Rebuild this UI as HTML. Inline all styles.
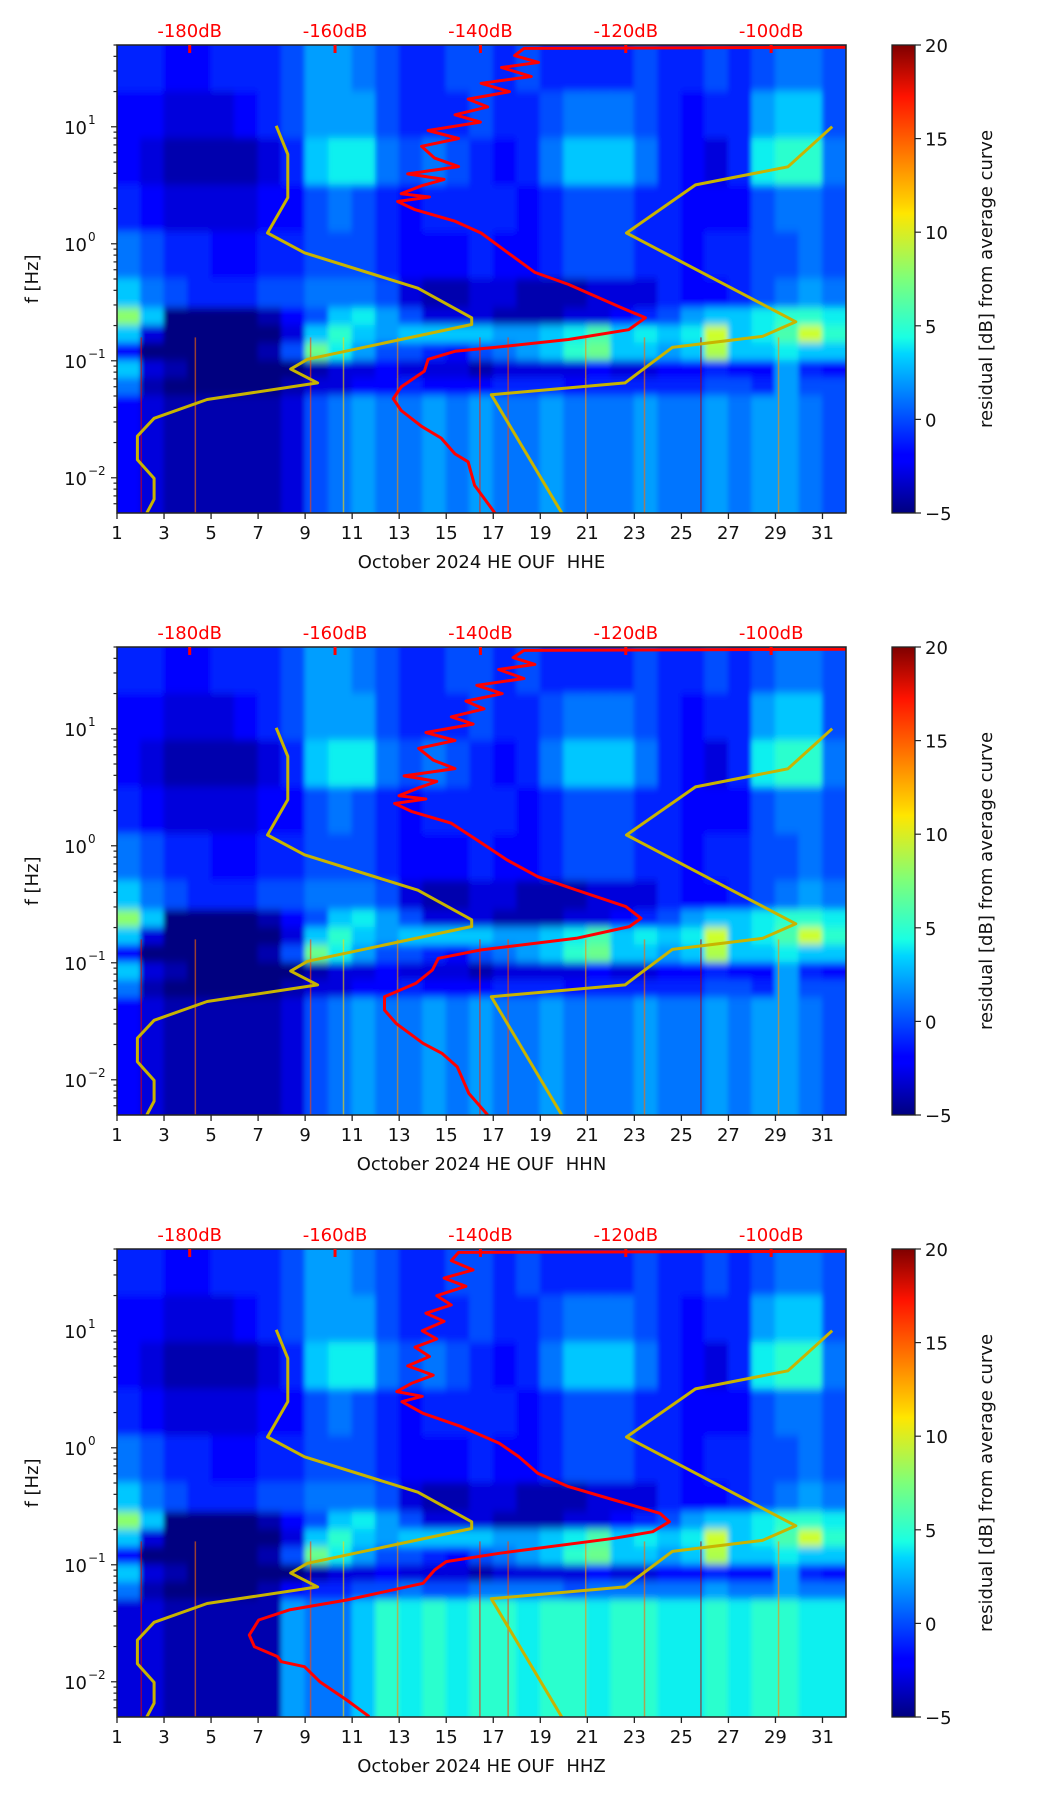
<!DOCTYPE html>
<html><head><meta charset="utf-8">
<style>
html,body{margin:0;padding:0;background:#fff;}
svg{display:block;font-family:"DejaVu Sans","Liberation Sans",sans-serif;}
</style></head>
<body>
<svg id="fig" width="1052" height="1806" viewBox="0 0 1052 1806" xmlns="http://www.w3.org/2000/svg">
<defs>
<linearGradient id="jet" x1="0" y1="1" x2="0" y2="0">
<stop offset="0" stop-color="#00007f"/><stop offset="0.11" stop-color="#0000ff"/><stop offset="0.125" stop-color="#0000ff"/>
<stop offset="0.34" stop-color="#00d5ff"/><stop offset="0.375" stop-color="#1affe3"/><stop offset="0.5" stop-color="#7dff7a"/>
<stop offset="0.64" stop-color="#ffe600"/><stop offset="0.66" stop-color="#ffd200"/><stop offset="0.89" stop-color="#ff1300"/><stop offset="1" stop-color="#7f0000"/>
</linearGradient>
<filter id="soft" x="-0.05" y="-0.05" width="1.1" height="1.1"><feGaussianBlur stdDeviation="2.5 4"/></filter>
</defs>
</svg>
<script>
// ---- data ----
const days = [1,2,3,4,5,6,7,8,9,10,11,12,13,14,15,16,17,18,19,20,21,22,23,24,25,26,27,28,29,30,31];
const xTickLabels = ["1","3","5","7","9","11","13","15","17","19","21","23","25","27","29","31"];
const dbTickLabels = [-180,-160,-140,-120,-100];
const cbTicks = [20,15,10,5,0,-5];
const bandTop = [1.699,1.3,0.9,0.5,0.1,-0.3,-0.55,-0.7,-0.85,-1.0,-1.15,-1.3];
const bandBot = [1.3,0.9,0.5,0.1,-0.3,-0.55,-0.7,-0.85,-1.0,-1.15,-1.3,-2.301];
const bandA = [-1,-1,-2,-2,-1,-1,-1,0,2,2,1,0,-1,-1,0,0,-1,0,-1,-1,-1,-1,0,-1,-1,0,-1,0,1,1,0];
const bandB = [-2,-2,-3,-3,-3,-2,-1,0,2,2,2,0,-1,-1,-1,0,-1,-1,0,1,1,1,0,-1,-2,-1,-1,2,3,3,0];
const bandC = [-2,-3,-4,-4,-4,-4,-3,-1,3,4,4,1,0,1,0,-1,-2,-1,1,3,3,3,1,-1,-2,-3,-1,4,5,5,1];
const bandD = [-1,-2,-3,-3,-3,-3,-2,-2,0,1,0,-1,-2,-1,-1,-1,-1,-2,-1,0,0,0,-1,-1,-2,-2,-2,0,1,1,0];
const bandE = [1,0,-1,-1,-2,-2,-1,-1,0,0,0,-1,-2,-2,-2,-1,-2,-2,-1,0,0,0,-1,-1,-2,-1,-1,0,0,1,0];
const bandF = [3,1,0,-1,-1,-1,0,0,1,1,1,0,-3,-4,-4,-3,-3,-4,-4,-4,-3,-3,-3,-1,-2,-2,-1,0,1,2,1];
const bandG = [8,3,-5,-5,-5,-5,-4,-2,0,3,4,2,0,-3,-3,-3,-4,-4,-4,-3,-3,-2,-1,0,2,3,3,4,5,5,4];
const bandH = [3,-3,-5,-5,-5,-5,-5,-3,3,5,3,2,3,3,3,3,2,2,3,4,6,3,4,3,4,10,3,4,6,10,5];
const bandI = [-2,-5,-5,-5,-5,-5,-4,0,7,4,2,0,0,-1,-2,0,1,2,3,5,7,3,3,2,3,9,3,3,4,3,3];
const bandJ = [3,-3,-4,-5,-5,-5,-5,-5,-4,-3,-3,-2,-3,-3,-3,-4,-3,-3,-3,-3,-2,-3,-3,-2,-2,-1,-2,-2,2,-1,-2];
const bandK = [1,-4,-5,-5,-5,-5,-5,-4,-3,-3,-2,-2,-1,-2,-2,-2,-1,-1,-1,-2,-1,-1,-1,-1,-1,0,0,-1,2,0,0];
const bandL = [-2,-3,-4,-4,-4,-4,-4,-3,0,1,2,1,1,2,1,2,1,1,2,1,1,1,2,1,1,2,1,2,2,1,0];
const bandK3 = [1,-4,-5,-5,-5,-5,-4,-2,-1,-1,0,0,1,0,0,1,1,1,1,0,1,1,1,1,1,2,1,1,2,1,1];
const bandL3 = [-3,-3,-4,-4,-4,-4,-4,2,1,1,3,5,4,5,4,5,5,4,5,5,4,5,5,4,4,5,4,5,5,4,4];
const spikeDays = [2.0,4.3,9.2,10.6,12.9,16.4,17.6,20.9,23.4,25.8,29.1];
const spikeVals = [18,15,16,12,14,17,16,14,15,19,14];
// NLNM / NHNM (dB, log10 f)
const nlnmDb = [-168.1,-166.5,-166.5,-169.3,-164.2,-148.6,-141.2,-141.2,-163.8,-166.1,-162.4,-177.6,-184.9,-187.2,-187.2,-184.9,-184.9,-185.9];
const nlnmLf = [1.008,0.765,0.395,0.092,-0.077,-0.380,-0.633,-0.690,-0.987,-1.071,-1.189,-1.331,-1.492,-1.644,-1.846,-2.005,-2.183,-2.301];
const nhnmDb = [-91.6,-97.7,-110.4,-119.9,-96.6,-101.2,-113.6,-120.1,-138.5,-128.8];
const nhnmLf = [1.001,0.658,0.503,0.092,-0.667,-0.792,-0.886,-1.189,-1.290,-2.301];
// mean PSD curves (dB, log10 f)
const redDb1 = [-89.7,-134,-135.3,-132,-137.1,-133,-139.9,-136,-141.7,-139,-143.5,-140,-147.2,-143,-148.1,-146.3,-143,-150.0,-145,-148.1,-150.9,-147,-151.4,-149.1,-143.5,-139.9,-136.2,-132.5,-127.9,-120.5,-117.3,-119.6,-127.9,-138.0,-143.5,-147.2,-147.7,-150.9,-152.0,-150.9,-148.1,-145.4,-143.5,-141.7,-140.8,-138.0];
const redLf1 = [1.68,1.67,1.608,1.55,1.507,1.43,1.372,1.30,1.237,1.17,1.102,1.04,0.968,0.90,0.833,0.732,0.66,0.597,0.55,0.496,0.428,0.40,0.361,0.294,0.193,0.092,-0.077,-0.245,-0.347,-0.549,-0.633,-0.734,-0.818,-0.886,-0.919,-0.987,-1.088,-1.223,-1.324,-1.425,-1.560,-1.661,-1.796,-1.863,-2.065,-2.301];
const redDb2 = [-89.7,-134,-135.5,-132.5,-137.5,-134,-140.5,-137,-142,-139.5,-144,-141,-147.5,-143.5,-148.5,-146.5,-143.5,-150.5,-146,-148.5,-151.2,-147.5,-151.8,-149.5,-144,-140.5,-136.3,-132.1,-126.8,-120.0,-117.9,-119.5,-126.8,-140.0,-145.8,-146.6,-148.9,-153.2,-153.2,-151.6,-147.9,-145.3,-143.2,-141.6,-139.0];
const redLf2 = [1.68,1.67,1.608,1.55,1.507,1.43,1.372,1.30,1.237,1.17,1.102,1.04,0.968,0.90,0.833,0.732,0.66,0.597,0.55,0.496,0.428,0.40,0.361,0.294,0.193,0.05,-0.122,-0.264,-0.378,-0.520,-0.620,-0.691,-0.791,-0.891,-0.962,-1.062,-1.176,-1.290,-1.404,-1.518,-1.688,-1.774,-1.888,-2.116,-2.301];
const redDb3 = [-89.7,-143,-144,-141,-145,-142,-146,-144,-147.5,-145,-148,-146,-149,-147,-150,-146.5,-149.5,-151.5,-148,-150.8,-147.9,-142.6,-137.4,-134.7,-132.1,-127.9,-121.6,-115.3,-114.0,-116.3,-121.6,-137.4,-144.7,-146.3,-147.9,-158.4,-166.3,-170.5,-171.8,-171.1,-167.9,-167.4,-164.2,-162.1,-158.4,-155.3];
const redLf3 = [1.68,1.67,1.60,1.52,1.45,1.38,1.30,1.22,1.15,1.08,1.0,0.93,0.86,0.78,0.70,0.62,0.55,0.48,0.44,0.394,0.295,0.180,0.038,-0.076,-0.218,-0.332,-0.446,-0.560,-0.632,-0.717,-0.774,-0.902,-0.973,-1.045,-1.158,-1.301,-1.386,-1.472,-1.600,-1.700,-1.785,-1.828,-1.871,-1.999,-2.156,-2.298];
const channels = ["HHE","HHN","HHZ"];

// ---- geometry ----
const NS="http://www.w3.org/2000/svg";
const svg=document.getElementById('fig');
const L=117, W=729, H=468, tops=[45,647,1249];
const LFMAX=1.699, LFMIN=-2.301, DBMIN=-190, DBMAX=-89.7, DAY0=1, DAY1=32;
const CBX=892, CBW=23, PAD=14;
function xDay(d){return L+(d-DAY0)/(DAY1-DAY0)*W;}
function xDb(db){return L+(db-DBMIN)/(DBMAX-DBMIN)*W;}
function yLf(lf,top){return top+(LFMAX-lf)/(LFMAX-LFMIN)*H;}
function yCb(v,top){return top+(20-v)/25*H;}
function jet(v){
  let t=Math.max(0,Math.min(1,(v+5)/25));
  function cl(x){return Math.max(0,Math.min(1,x));}
  let r=t<0.35?0:t<0.66?(t-0.35)/0.31:t<0.89?1:1-0.5*(t-0.89)/0.11;
  let g=t<0.125?0:t<0.375?(t-0.125)/0.25:t<0.64?1:t<0.91?1-(t-0.64)/0.27:0;
  let b=t<0.11?0.5+0.5*t/0.11:t<0.34?1:t<0.65?1-(t-0.34)/0.31:0;
  return `rgb(${Math.round(cl(r)*255)},${Math.round(cl(g)*255)},${Math.round(cl(b)*255)})`;
}
function mk(tag,attrs,parent){const e=document.createElementNS(NS,tag);for(const k in attrs)e.setAttribute(k,attrs[k]);(parent||svg).appendChild(e);return e;}
function txt(s,attrs,parent){const e=mk('text',attrs,parent);e.textContent=s;return e;}
function poly(dbs,lfs,top){return dbs.map((d,i)=>xDb(d).toFixed(1)+','+yLf(lfs[i],top).toFixed(1)).join(' ');}

tops.forEach((top,p)=>{
  const g=mk('g',{});
  
  
  const cid='clip'+p;
  const cp=mk('clipPath',{id:cid},g); mk('rect',{x:L,y:top,width:W,height:H},cp);
  const hm=mk('g',{'clip-path':`url(#${cid})`},g);
  
  
  const inner=mk('g',{filter:'url(#soft)'},hm);
  const bands=[bandA,bandB,bandC,bandD,bandE,bandF,bandG,bandH,bandI,bandJ,p===2?bandK3:bandK,p===2?bandL3:bandL];
  const nb=bands.length;
  bands.forEach((arr,bi)=>{
    days.forEach((d,di)=>{
      let y0=yLf(bandTop[bi],top), y1=yLf(bandBot[bi],top);
      let x0=xDay(d), x1=xDay(d+1);
      if(bi===0)y0-=PAD; if(bi===nb-1)y1+=PAD;
      if(di===0)x0-=PAD; if(di===days.length-1)x1+=PAD;
      const r=mk('rect',{x:x0-0.5,y:y0-0.5,width:x1-x0+1,height:y1-y0+1,fill:jet(arr[di])},inner);
      
      
    });
  });
  spikeDays.forEach((d,i)=>{
    const s=mk('rect',{x:xDay(d),y:yLf(-0.8,top),width:1.5,height:yLf(LFMIN,top)-yLf(-0.8,top),fill:jet(spikeVals[i]),opacity:0.6},hm);
    
    
  });
  const nl=mk('polyline',{points:poly(nlnmDb,nlnmLf,top),fill:'none',stroke:'#c8b400','stroke-width':3,'stroke-linejoin':'round'},hm);
  
  
  const nh=mk('polyline',{points:poly(nhnmDb,nhnmLf,top),fill:'none',stroke:'#c8b400','stroke-width':3,'stroke-linejoin':'round'},hm);
  
  
  const rd=[redDb1,redDb2,redDb3][p], rl=[redLf1,redLf2,redLf3][p];
  const rc=mk('polyline',{points:poly(rd,rl,top),fill:'none',stroke:'#ff0000','stroke-width':3,'stroke-linejoin':'round'},hm);
  
  
  const fr=mk('rect',{x:L,y:top,width:W,height:H,fill:'none',stroke:'#222','stroke-width':1.5},g);
  
  
  dbTickLabels.forEach(db=>{
    const x=xDb(db);
    mk('rect',{x:x-1.5,y:top,width:3,height:8,fill:'#ff0000'},g);
    const t=txt(db+'dB',{x:x,y:top-8,'font-size':18,fill:'#ff0000','text-anchor':'middle'},g);
    
    
  });
  xTickLabels.forEach(s=>{
    const x=xDay(+s);
    mk('line',{x1:x,y1:top+H,x2:x,y2:top+H+6,stroke:'#222','stroke-width':1.3},g);
    const t=txt(s,{x:x,y:top+H+26,'font-size':18,fill:'#111','text-anchor':'middle'},g);
    
    
  });
  const xl=txt('October 2024 HE OUF\u00a0 '+channels[p],{x:L+W/2,y:top+H+55,'font-size':18,fill:'#111','text-anchor':'middle'},g);
  
  
  for(let e=-3;e<=1;e++){
    for(let m=1;m<=9;m++){
      const lf=e+Math.log10(m);
      if(lf<LFMIN-1e-6||lf>LFMAX)continue;
      const y=yLf(lf,top);
      mk('line',{x1:L,y1:y,x2:L-(m===1?6:3.5),y2:y,stroke:'#222','stroke-width':1.2},g);
      if(m===1){
        const t=txt('10',{x:L-30,y:y+7,'font-size':18,fill:'#111','text-anchor':'end'},g);
        
        
        txt(e>=0?String(e):'\u2212'+(-e),{x:L-29,y:y-3,'font-size':12,fill:'#111'},g);
      }
    }
  }
  const yl=txt('f [Hz]',{x:0,y:0,'font-size':18,fill:'#111','text-anchor':'middle',transform:`translate(38,${top+H/2}) rotate(-90)`},g);
  
  
  const cb=mk('rect',{x:CBX,y:top,width:CBW,height:H,fill:'url(#jet)',stroke:'#222','stroke-width':1.3},g);
  
  
  cbTicks.forEach(v=>{
    const y=yCb(v,top);
    mk('line',{x1:CBX+CBW,y1:y,x2:CBX+CBW+6,y2:y,stroke:'#222','stroke-width':1.2},g);
    const t=txt(v<0?'\u2212'+(-v):String(v),{x:CBX+CBW+10,y:y+7,'font-size':18,fill:'#111'},g);
    
    
  });
  const cl=txt('residual [dB] from average curve',{x:0,y:0,'font-size':18,fill:'#111','text-anchor':'middle',transform:`translate(992,${top+H/2}) rotate(-90)`},g);
  
  
});
</script>
</body></html>
